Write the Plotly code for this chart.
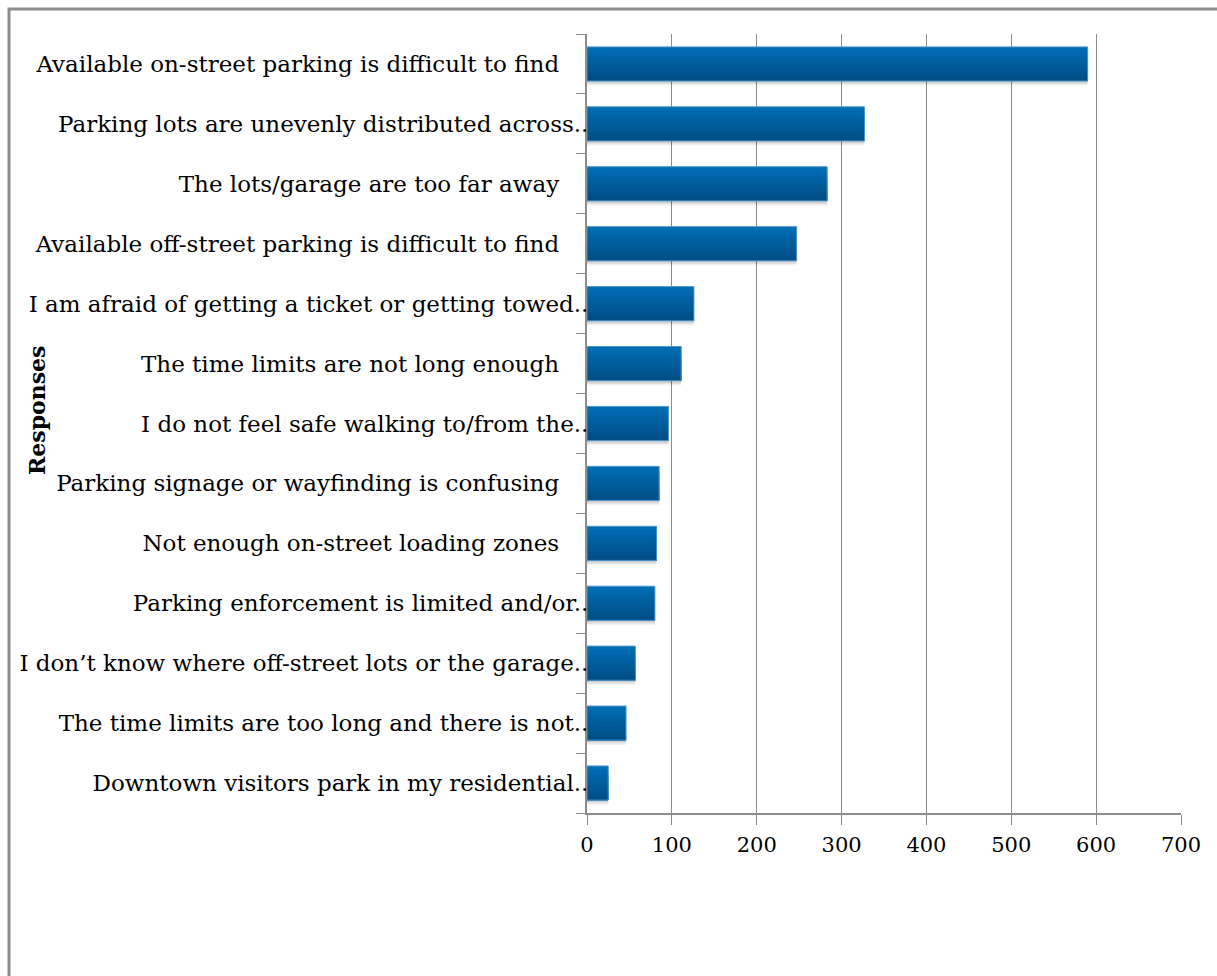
import plotly.graph_objects as go

# Survey responses: parking problems downtown (number of responses)
categories = [
    "Available on-street parking is difficult to find",
    "Parking lots are unevenly distributed across..",
    "The lots/garage are too far away",
    "Available off-street parking is difficult to find",
    "I am afraid of getting a ticket or getting towed..",
    "The time limits are not long enough",
    "I do not feel safe walking to/from the..",
    "Parking signage or wayfinding is confusing",
    "Not enough on-street loading zones",
    "Parking enforcement is limited and/or..",
    "I don\u2019t know where off-street lots or the garage..",
    "The time limits are too long and there is not..",
    "Downtown visitors park in my residential..",
]
responses = [590, 327, 283, 247, 126, 111, 96, 85, 82, 80, 57, 46, 25]
x_ticks = [0, 100, 200, 300, 400, 500, 600, 700]

W, H = 1217, 976
L, R, T, B = 587, 36, 34, 163

FONT = "DejaVu Serif"
GRID = "#8c8c8c"

# tick text: full labels carry a little trailing space like truncated ones carry ".."
tick_text = [c if c.endswith("..") else c + "\u00a0\u00a0\u00a0\u00a0" for c in categories]

fig = go.Figure()

BAR_W = 0.57
TOP = -BAR_W / 2

# soft drop shadow under each bar
for dy, alpha in [(0.08, 0.05), (0.055, 0.07), (0.03, 0.09)]:
    fig.add_trace(go.Bar(
        y=categories, x=responses, orientation="h",
        offset=TOP + dy, width=BAR_W,
        marker=dict(color=f"rgba(0,0,0,{alpha})", line=dict(width=0)),
        hoverinfo="skip", showlegend=False,
    ))

# vertical gradient fill built from overlapping horizontal bands
top_rgb = (0, 108, 178)
bot_rgb = (0, 78, 134)
N = 8
band = BAR_W / N
for i in range(N):
    t = i / (N - 1)
    rgb = tuple(round(a + (b - a) * t) for a, b in zip(top_rgb, bot_rgb))
    start = TOP + i * band
    fig.add_trace(go.Bar(
        y=categories, x=responses, orientation="h",
        offset=start, width=(BAR_W - i * band),
        marker=dict(color="rgb(%d,%d,%d)" % rgb, line=dict(width=0)),
        hoverinfo="skip", showlegend=False,
    ))

# thin light outline
fig.add_trace(go.Bar(
    y=categories, x=responses, orientation="h",
    offset=TOP, width=BAR_W,
    marker=dict(color="rgba(0,0,0,0)", line=dict(color="#4f97cf", width=1)),
    showlegend=False,
))

fig.update_layout(
    width=W, height=H,
    margin=dict(l=L, r=R, t=T, b=B, pad=0),
    paper_bgcolor="white", plot_bgcolor="white",
    barmode="overlay",
    font=dict(family=FONT, color="#000000"),
    xaxis=dict(
        range=[0, 700], tickvals=x_ticks, ticktext=[str(v) for v in x_ticks],
        showgrid=True, gridcolor=GRID, gridwidth=1,
        zeroline=False, showline=True, linecolor=GRID, linewidth=2,
        ticks="outside", ticklen=10, tickcolor=GRID, tickwidth=1,
        tickfont=dict(family=FONT, size=21, color="#000000"),
        ticklabelstandoff=2,
    ),
    yaxis=dict(
        categoryorder="array", categoryarray=categories,
        tickvals=categories, ticktext=tick_text,
        autorange="reversed", showgrid=False, zeroline=False,
        showline=True, linecolor=GRID, linewidth=2,
        ticks="outside", ticklen=9, tickcolor=GRID, tickwidth=1,
        tickson="boundaries",
        tickfont=dict(family=FONT, size=23, color="#000000"),
        ticklabelstandoff=-8,
    ),
)

# axis title
fig.add_annotation(
    text="<b>Responses</b>", textangle=-90,
    xref="paper", yref="paper",
    x=(37 - L) / (W - L - R), y=1 - (410 - T) / (H - T - B),
    xanchor="center", yanchor="middle", showarrow=False,
    font=dict(family=FONT, size=22, color="#000000"),
)

# chart frame
pw, ph = W - L - R, H - T - B
fig.add_shape(
    type="rect", xref="paper", yref="paper",
    x0=(9 - L) / pw, x1=(W + 20 - L) / pw,
    y0=1 - (H + 20 - T) / ph, y1=1 - (9 - T) / ph,
    line=dict(color="#8c8c8c", width=3), fillcolor="rgba(0,0,0,0)", layer="below",
)

fig.write_html("out.html")
